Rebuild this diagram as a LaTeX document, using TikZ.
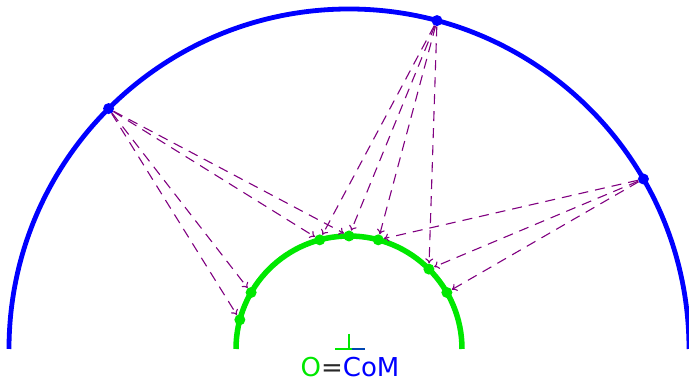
\documentclass[tikz,border=0pt]{standalone}
\usepackage{fontspec}
\setmainfont{DejaVu Sans}
\usetikzlibrary{arrows.meta}
\definecolor{cblue}{RGB}{0,0,255}
\definecolor{cgreen}{RGB}{0,232,0}
\definecolor{cpurple}{RGB}{128,0,128}
\definecolor{cgray}{RGB}{40,40,40}
\tikzset{
  bdot/.style={circle,fill=cblue,inner sep=0pt,minimum size=11pt},
  gdot/.style={circle,fill=cgreen,inner sep=0pt,minimum size=11pt},
  ray/.style={draw=cpurple,line width=1.1pt,dash pattern=on 10pt off 7pt,-{To[length=5pt,width=8pt]}},
}
\begin{document}
\begin{tikzpicture}[x=1pt,y=1pt]
\useasboundingbox (0,0) rectangle (689,379);
\begin{scope}[shift={(349,30)}]
  \draw[cblue,line width=4.8pt] (-340,0) arc (180:0:340);
  \draw[cgreen,line width=5.5pt] (-113,0) arc (180:0:113);
  \node[bdot] (b135) at (135:340) {};
  \node[bdot] (b75) at (75:340) {};
  \node[bdot] (b30) at (30:340) {};
  \foreach \a in {165,150,105,90,75,45,30}{
    \node[gdot] (g\a) at (\a:113) {};
  }
  \foreach \a in {165,150,105,90}{ \draw[ray] (b135) -- (g\a); }
  \foreach \a in {105,90,75,45}{ \draw[ray] (b75) -- (g\a); }
  \foreach \a in {75,45,30}{ \draw[ray] (b30) -- (g\a); }
  \coordinate (pt) at (0,15);
  \coordinate (pb) at (0,0);
  \coordinate (pl) at (-14,0);
  \coordinate (pm) at (3,0);
  \coordinate (pr) at (16,0);
  \draw[cgreen,line width=1.4pt] (pt) -- (pb);
  \draw[cgreen,line width=1.4pt] (pl) -- (pm);
  \draw[cblue!70!cgreen,line width=1.4pt] (pm) -- (pr);
  \node[anchor=base,inner sep=0pt,text depth=0pt,font=\fontsize{26}{26}\selectfont] (lbl) at (1,-27.5)
    {\textcolor{cgreen}{O}\textcolor{cgray}{=}\textcolor{cblue}{CoM}};
\end{scope}
\end{tikzpicture}
\end{document}
